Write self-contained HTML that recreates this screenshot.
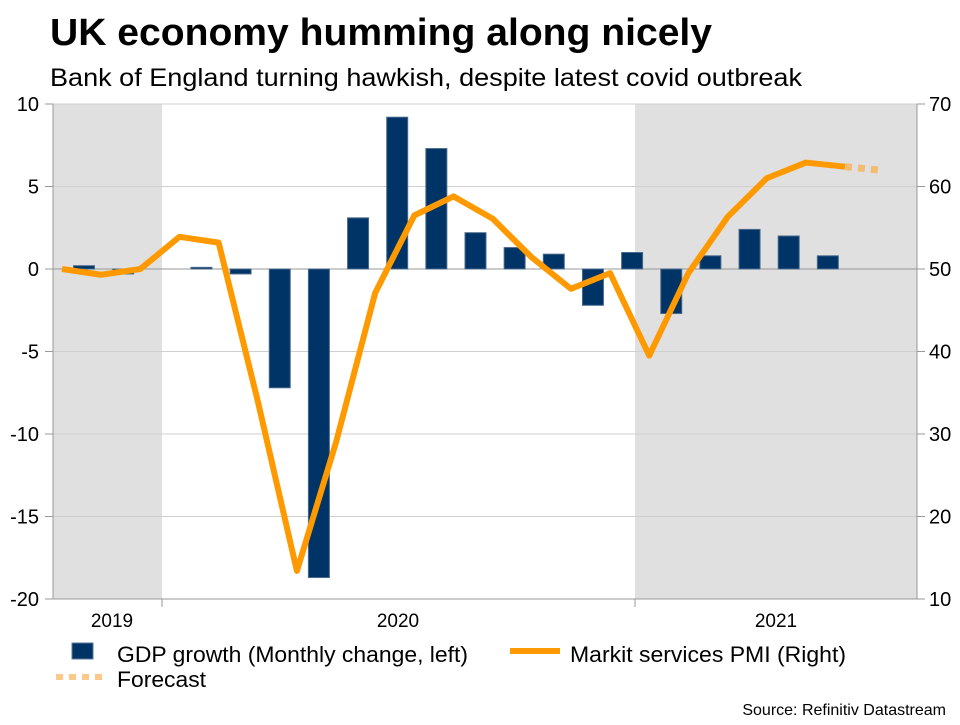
<!DOCTYPE html>
<html><head><meta charset="utf-8"><style>
body{margin:0;background:#fff;}
svg text{font-family:"Liberation Sans",Arial,sans-serif;}
</style></head><body>
<svg width="960" height="720">
<text x="50" y="45" font-size="38" font-weight="bold" fill="#000" textLength="662" lengthAdjust="spacingAndGlyphs">UK economy humming along nicely</text>
<text x="50" y="86" font-size="25" fill="#000" textLength="752" lengthAdjust="spacingAndGlyphs">Bank of England turning hawkish, despite latest covid outbreak</text>
<g id="plot"></g>
<g>
<rect x="72" y="643" width="21" height="16" fill="#003366" stroke="#5a7896"/>
<text x="117" y="662" font-size="22" textLength="351" lengthAdjust="spacingAndGlyphs">GDP growth (Monthly change, left)</text>
<line x1="510" y1="651" x2="560" y2="651" stroke="#ff9900" stroke-width="6"/>
<text x="570" y="662" font-size="22" textLength="276" lengthAdjust="spacingAndGlyphs">Markit services PMI (Right)</text>
<line x1="56" y1="677" x2="106" y2="677" stroke="#fcc98a" stroke-width="6" stroke-dasharray="7,6"/>
<text x="117" y="687" font-size="22" textLength="89" lengthAdjust="spacingAndGlyphs">Forecast</text>
</g>
<text x="946" y="715" font-size="16" text-anchor="end">Source: Refinitiv Datastream</text>
</svg>
<script>
const gdp=[0.2,-0.3,0,0.1,-0.3,-7.2,-18.7,3.1,9.2,7.3,2.2,1.3,0.9,-2.2,1.0,-2.7,0.8,2.4,2.0,0.8];
const pmi=[50,49.3,50,53.9,53.2,34,13.4,29,47.1,56.5,58.8,56.1,51.4,47.6,49.5,39.5,49.5,56.3,61.0,62.9,62.4];
const forecast=[62.4,62.0];
const leftTicks=[10,5,0,-5,-10,-15,-20];
const rightTicks=[70,60,50,40,30,20,10];
const years=["2019","2020","2021"];
const X0=53,X1=917,YT=104,YB=599;
const yL=v=>YT+(10-v)*(YB-YT)/30;
const yR=v=>YT+(70-v)*(YB-YT)/60;
const xb=i=>84+i*39.15;
const xl=i=>xb(i)-22;
const NS="http://www.w3.org/2000/svg";
const g=document.getElementById('plot');
function mk(t,a){const e=document.createElementNS(NS,t);for(const k in a)e.setAttribute(k,a[k]);g.appendChild(e);return e;}
let e;
e=mk('rect',{x:X0,y:YT,width:162-X0,height:YB-YT,fill:'#e0e0e0'});


e=mk('rect',{x:635,y:YT,width:X1-635,height:YB-YT,fill:'#e0e0e0'});


leftTicks.forEach((v,i)=>{
 const y=yL(v);
 e=mk('line',{x1:X0,x2:X1,y1:y,y2:y,stroke:v===0?'#999':'#cfcfcf','stroke-width':1});
 
 
 e=mk('line',{x1:X0-8,x2:X0,y1:y,y2:y,stroke:'#999'});
 
 
 e=mk('text',{x:X0-14,y:y+7,'font-size':20,'text-anchor':'end'});e.textContent=v;
 
 
});
rightTicks.forEach(v=>{
 const y=yR(v);
 e=mk('line',{x1:X1,x2:X1+8,y1:y,y2:y,stroke:'#999'});
 
 
 e=mk('text',{x:X1+12,y:y+7,'font-size':20});e.textContent=v;
 
 
});
e=mk('line',{x1:X0,x2:X0,y1:YT,y2:YB,stroke:'#999'});


e=mk('line',{x1:X1,x2:X1,y1:YT,y2:YB,stroke:'#999'});


e=mk('line',{x1:X0,x2:X1,y1:YB,y2:YB,stroke:'#999'});


[162,635].forEach(x=>{e=mk('line',{x1:x,x2:x,y1:YB,y2:YB+8,stroke:'#999'});
 
 });
[112,398,776].forEach((x,i)=>{e=mk('text',{x:x,y:627,'font-size':19,'text-anchor':'middle'});e.textContent=years[i];
 
 });
gdp.forEach((v,i)=>{
 if(v===0)return;
 const y0=yL(0),y=yL(v);
 e=mk('rect',{x:xb(i)-10.5,y:Math.min(y0,y),width:21,height:Math.abs(y-y0),fill:'#003366',stroke:'#4a6a8c','stroke-width':1});
 
 
});
e=mk('polyline',{points:pmi.map((v,i)=>xl(i)+','+yR(v)).join(' '),fill:'none',stroke:'#ff9900','stroke-width':6,'stroke-linejoin':'round'});


const n=pmi.length-1;
e=mk('line',{x1:xl(n),y1:yR(forecast[0]),x2:xl(n)+33,y2:yR(forecast[1]),stroke:'#f5b860','stroke-width':7,'stroke-dasharray':'7,6',opacity:0.85});


</script>
</body></html>
